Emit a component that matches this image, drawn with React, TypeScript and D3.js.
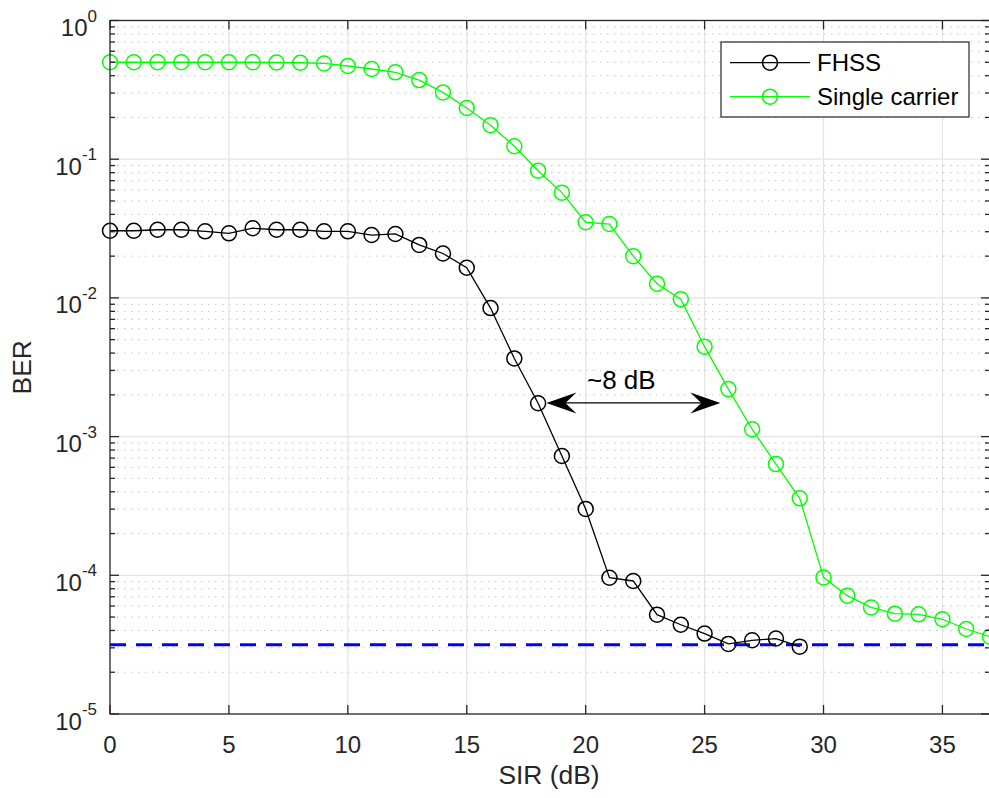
import React from "react";
import * as d3 from "d3";

const sirFHSS: number[] = Array.from({ length: 30 }, (_, i) => i);
const berFHSS: number[] = [
  0.0305, 0.0305, 0.031, 0.031, 0.0302, 0.0292, 0.0318, 0.031, 0.031, 0.0302,
  0.0302, 0.0284, 0.0289, 0.0241, 0.0209, 0.0165, 0.00845, 0.00366, 0.00174, 0.000725,
  0.000301, 9.6e-5, 9.1e-5, 5.2e-5, 4.4e-5, 3.8e-5, 3.2e-5, 3.4e-5, 3.5e-5, 3.06e-5,
];
const sirSingle: number[] = Array.from({ length: 38 }, (_, i) => i);
const berSingle: number[] = [
  0.5, 0.5, 0.5, 0.5, 0.5, 0.5, 0.5, 0.498, 0.496, 0.49,
  0.47, 0.447, 0.423, 0.372, 0.303, 0.234, 0.176, 0.124, 0.0826, 0.0574,
  0.0351, 0.0341, 0.02, 0.01266, 0.00977, 0.00445, 0.0022, 0.00113, 0.000634, 0.000359,
  9.66e-5, 7.13e-5, 5.87e-5, 5.29e-5, 5.23e-5, 4.82e-5, 4.1e-5, 3.61e-5,
];
const floorBER = 3.16e-5;
const xTicks: number[] = [0, 5, 10, 15, 20, 25, 30, 35];
const yDecades: number[] = [0, -1, -2, -3, -4, -5];
const seriesNames: string[] = ["FHSS", "Single carrier"];
const arrowFrom = 18.35;
const arrowTo = 25.66;
const arrowBER = 0.00175;
const arrowLabel = "~8 dB";
const arrowLabelSIR = 21.5;

const W = 989;
const H = 798;
const L = 110;
const R = 990;
const T = 20.5;
const B = 714;
const FONT = "'Liberation Sans', Arial, Helvetica, sans-serif";
const AX = "#262626";

export default function App() {
  const x = d3.scaleLinear().domain([0, 37]).range([L, R]);
  const y = d3.scaleLog().domain([1e-5, 1]).range([B, T]);

  const line = d3
    .line<[number, number]>()
    .x((d) => x(d[0]))
    .y((d) => y(d[1]));

  const fhssPts: [number, number][] = sirFHSS.map((s, i) => [s, berFHSS[i]]);
  const singlePts: [number, number][] = sirSingle.map((s, i) => [s, berSingle[i]]);

  const minor: number[] = [];
  for (let e = -5; e < 0; e++) {
    for (let m = 2; m <= 9; m++) minor.push(m * Math.pow(10, e));
  }

  const ay = y(arrowBER);
  const ax1 = x(arrowFrom);
  const ax2 = x(arrowTo);
  const head = (tip: number, dir: number) =>
    `M${tip},${ay} L${tip + dir * 30},${ay - 10.5} L${tip + dir * 19},${ay} L${tip + dir * 30},${ay + 10.5} Z`;

  const legX = 721, legY = 42, legW = 248, legH = 75;
  const rows = [
    { name: seriesNames[0], color: "#000000", cy: 62.7 },
    { name: seriesNames[1], color: "#00ff00", cy: 96.7 },
  ];

  return (
    <svg
      width={W}
      height={H}
      style={{ position: "absolute", left: 0, top: 0, background: "#fff" }}
      fontFamily={FONT}
    >
      <defs>
        <clipPath id="plotclip">
          <rect x={L} y={T} width={R - L} height={B - T} />
        </clipPath>
      </defs>
      <rect x={0} y={0} width={W} height={H} fill="#fff" />
      {/* minor grid */}
      {minor.map((v, i) => (
        <line
          key={"mg" + i}
          x1={L}
          x2={R}
          y1={y(v)}
          y2={y(v)}
          stroke="#c4c4c4"
          strokeWidth={1}
          strokeDasharray="1.5 5.5"
        />
      ))}
      {/* major grid */}
      {xTicks.slice(1).map((t) => (
        <line key={"gx" + t} x1={x(t)} x2={x(t)} y1={T} y2={B} stroke="#e3e3e3" strokeWidth={1.2} />
      ))}
      {yDecades.slice(1, -1).map((e) => (
        <line
          key={"gy" + e}
          x1={L}
          x2={R}
          y1={y(Math.pow(10, e))}
          y2={y(Math.pow(10, e))}
          stroke="#e3e3e3"
          strokeWidth={1.2}
        />
      ))}

      {/* data */}
      <g clipPath="url(#plotclip)">
        <line
          x1={L}
          x2={R}
          y1={y(floorBER)}
          y2={y(floorBER)}
          stroke="#0000ff"
          strokeWidth={3}
          strokeDasharray="16 10"
        />
      </g>
      <path d={line(fhssPts) || ""} fill="none" stroke="#000" strokeWidth={1.3} />
      {fhssPts.map((p, i) => (
        <circle key={"fc" + i} cx={x(p[0])} cy={y(p[1])} r={7.5} fill="none" stroke="#000" strokeWidth={1.5} />
      ))}
      <path d={line(singlePts) || ""} fill="none" stroke="#00ff00" strokeWidth={1.3} />
      {singlePts.map((p, i) => (
        <circle key={"sc" + i} cx={x(p[0])} cy={y(p[1])} r={7.5} fill="none" stroke="#00ff00" strokeWidth={1.5} />
      ))}

      {/* axes box */}
      <rect x={L} y={T} width={R - L} height={B - T} fill="none" stroke={AX} strokeWidth={1.3} />
      {xTicks.map((t) => (
        <g key={"xt" + t}>
          <line x1={x(t)} x2={x(t)} y1={B} y2={B - 9} stroke={AX} strokeWidth={1.3} />
          <line x1={x(t)} x2={x(t)} y1={T} y2={T + 9} stroke={AX} strokeWidth={1.3} />
          <text x={x(t)} y={753} fontSize={24} fill={AX} textAnchor="middle">
            {t}
          </text>
        </g>
      ))}
      {yDecades.map((e) => {
        const yy = y(Math.pow(10, e));
        return (
          <g key={"yt" + e}>
            <line x1={L} x2={L + 9} y1={yy} y2={yy} stroke={AX} strokeWidth={1.3} />
            <line x1={R} x2={R - 9} y1={yy} y2={yy} stroke={AX} strokeWidth={1.3} />
            <text x={97} y={yy + 15.5} fontSize={24} fill={AX} textAnchor="end">
              10
              <tspan dy={-14.5} fontSize={17}>
                {e === 0 ? "0" : String(e)}
              </tspan>
            </text>
          </g>
        );
      })}
      {minor.map((v, i) => (
        <g key={"mt" + i}>
          <line x1={L} x2={L + 5} y1={y(v)} y2={y(v)} stroke={AX} strokeWidth={1.3} />
          <line x1={R} x2={R - 5} y1={y(v)} y2={y(v)} stroke={AX} strokeWidth={1.3} />
        </g>
      ))}

      {/* axis labels */}
      <text x={(L + R) / 2 - 1} y={784} fontSize={26.4} fill={AX} textAnchor="middle">
        SIR (dB)
      </text>
      <text
        transform={`translate(31,${(T + B) / 2}) rotate(-90)`}
        fontSize={26.4}
        fill={AX}
        textAnchor="middle"
      >
        BER
      </text>

      {/* annotation */}
      <line x1={ax1 + 15} x2={ax2 - 15} y1={ay} y2={ay} stroke="#000" strokeWidth={1.3} />
      <path d={head(ax1, 1)} fill="#000" />
      <path d={head(ax2, -1)} fill="#000" />
      <text x={x(arrowLabelSIR)} y={389} fontSize={26} fill="#000" textAnchor="middle">
        {arrowLabel}
      </text>

      {/* legend */}
      <rect x={legX} y={legY} width={legW} height={legH} fill="#fff" stroke={AX} strokeWidth={1.2} />
      {rows.map((r) => (
        <g key={r.name}>
          <line x1={730} x2={810} y1={r.cy} y2={r.cy} stroke={r.color} strokeWidth={1.3} />
          <circle cx={770} cy={r.cy} r={7.5} fill="none" stroke={r.color} strokeWidth={1.5} />
          <text x={817} y={r.cy + 8.6} fontSize={24} fill="#000">
            {r.name}
          </text>
        </g>
      ))}
    </svg>
  );
}
